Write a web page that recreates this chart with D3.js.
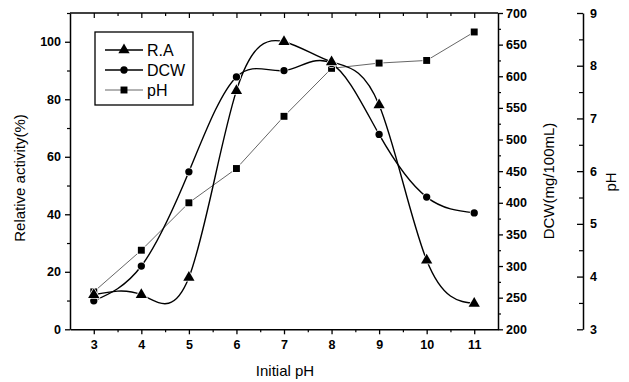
<!DOCTYPE html>
<html><head><meta charset="utf-8">
<script src="https://cdn.jsdelivr.net/npm/d3@7"></script>
<style>body{margin:0;background:#fff}svg{display:block}text{font-family:"Liberation Sans",Arial,sans-serif;fill:#000}</style>
</head><body><svg id="c" width="629" height="382"></svg>
<script>
const initialPH = [3,4,5,6,7,8,9,10,11];
const relActivity = [12,12,18,83,100,93,78,24,9];
const dcw = [245,300,449,599,609,620,508,409,384];
const finalPH = [3.71,4.50,5.40,6.05,7.04,7.95,8.05,8.10,8.64];
const xTicks = [3,4,5,6,7,8,9,10,11];
const leftTicks = [0,20,40,60,80,100];
const dcwTicks = [200,250,300,350,400,450,500,550,600,650,700];
const phTicks = [3,4,5,6,7,8,9];

const svg = d3.select("#c");
const L=70,R=498,T=13,B=329.3,PHX=583;
const x = d3.scaleLinear().domain([2.5,11.5]).range([L,R]);
const yL = d3.scaleLinear().domain([0,110]).range([B,T]);
const yD = d3.scaleLinear().domain([200,700]).range([B,T]);
const yP = d3.scaleLinear().domain([3,9]).range([B,T]);

const g = svg.append("g");
g.append("line").attr("x1",L).attr("x2",R).attr("y1",T).attr("y2",T).attr("stroke","#000").attr("stroke-width",1.5);
function styleAxis(sel){sel.selectAll("path").attr("stroke-width",1.5);sel.selectAll("line").attr("stroke-width",1.3);sel.selectAll("text").style("font-size","12.5px").style("font-weight","bold").style("font-family","'Liberation Sans',Arial,sans-serif");}
function minor(sel){sel.select("path").remove();sel.selectAll("line").attr("stroke-width",1.2);}
const fmt = d3.format("d");
const xb = g.append("g").attr("transform",`translate(0,${B})`).call(d3.axisBottom(x).tickValues(xTicks).tickFormat(fmt).tickSize(5).tickSizeOuter(0).tickPadding(6));
styleAxis(xb);
g.append("g").attr("transform",`translate(0,${B})`).call(d3.axisBottom(x).tickValues(d3.range(3.5,11.5,1)).tickFormat("").tickSize(3).tickSizeOuter(0)).call(minor);
g.append("g").attr("transform",`translate(0,${T})`).call(d3.axisBottom(x).tickValues(xTicks).tickFormat("").tickSize(5).tickSizeOuter(0)).call(minor);
g.append("g").attr("transform",`translate(0,${T})`).call(d3.axisBottom(x).tickValues(d3.range(3.5,11.5,1)).tickFormat("").tickSize(3).tickSizeOuter(0)).call(minor);
const yl = g.append("g").attr("transform",`translate(${L},0)`).call(d3.axisLeft(yL).tickValues(leftTicks).tickFormat(fmt).tickSize(5).tickSizeOuter(0).tickPadding(4));
styleAxis(yl);
g.append("g").attr("transform",`translate(${L},0)`).call(d3.axisLeft(yL).tickValues([10,30,50,70,90,110]).tickFormat("").tickSize(3).tickSizeOuter(0)).call(minor);
const yr = g.append("g").attr("transform",`translate(${R},0)`).call(d3.axisRight(yD).tickValues(dcwTicks).tickFormat(fmt).tickSize(5).tickSizeOuter(0).tickPadding(3));
styleAxis(yr);
g.append("g").attr("transform",`translate(${R},0)`).call(d3.axisRight(yD).tickValues(d3.range(225,700,50)).tickFormat("").tickSize(3).tickSizeOuter(0)).call(minor);
const yp = g.append("g").attr("transform",`translate(${PHX},0)`).call(d3.axisLeft(yP).tickValues(phTicks).tickFormat(fmt).tickSize(6).tickSizeOuter(0));
styleAxis(yp);
yp.selectAll("text").attr("text-anchor","start").attr("x",7);
g.append("g").attr("transform",`translate(${PHX},0)`).call(d3.axisLeft(yP).tickValues(d3.range(3.5,9,1)).tickFormat("").tickSize(4).tickSizeOuter(0)).call(minor);

svg.append("text").attr("transform","translate(25,178) rotate(-90)").attr("text-anchor","middle").style("font-size","15px").text("Relative activity(%)");
svg.append("text").attr("transform","translate(554,181) rotate(-90)").attr("text-anchor","middle").style("font-size","15px").text("DCW(mg/100mL)");
svg.append("text").attr("transform","translate(616,182) rotate(-90)").attr("text-anchor","middle").style("font-size","15px").text("pH");
svg.append("text").attr("x",285).attr("y",376).attr("text-anchor","middle").style("font-size","15px").text("Initial pH");

const raPts = initialPH.map((v,i)=>[x(v),yL(relActivity[i])]);
const dcwPts = initialPH.map((v,i)=>[x(v),yD(dcw[i])]);
const phPts = initialPH.map((v,i)=>[x(v),yP(finalPH[i])]);
const smooth = d3.line().curve(d3.curveNatural);
const straight = d3.line();
svg.append("path").attr("d",straight(phPts)).attr("fill","none").attr("stroke","#555").attr("stroke-width",0.9);
svg.append("path").attr("d",smooth(dcwPts)).attr("fill","none").attr("stroke","#000").attr("stroke-width",1.4);
svg.append("path").attr("d",smooth(raPts)).attr("fill","none").attr("stroke","#000").attr("stroke-width",1.4);

const tri = d3.symbol().type(d3.symbolTriangle).size(55);
const cir = d3.symbol().type(d3.symbolCircle).size(42);
const sq = d3.symbol().type(d3.symbolSquare).size(48);
function marks(pts,sym){svg.append("g").selectAll("path").data(pts).join("path").attr("transform",d=>`translate(${d[0]},${d[1]})`).attr("d",sym).attr("fill","#000").attr("stroke","#fff").attr("stroke-width",1.5).attr("paint-order","stroke");}
marks(phPts,sq);
marks(dcwPts,cir);
marks(raPts,tri);

const lg = svg.append("g");
lg.append("rect").attr("x",95).attr("y",32).attr("width",98).attr("height",73).attr("fill","#fff").attr("stroke","#000").attr("stroke-width",1.3);
const items=[["R.A",tri,1.4,"#000"],["DCW",cir,1.4,"#000"],["pH",sq,0.9,"#555"]];
items.forEach((it,i)=>{const yy=50+i*20;
 lg.append("line").attr("x1",105).attr("x2",143).attr("y1",yy).attr("y2",yy).attr("stroke",it[3]).attr("stroke-width",it[2]);
 lg.append("path").attr("transform",`translate(124,${yy})`).attr("d",it[1]).attr("fill","#000");
 lg.append("text").attr("x",147).attr("y",yy+6).style("font-size","16px").text(it[0]);
});
</script></body></html>
